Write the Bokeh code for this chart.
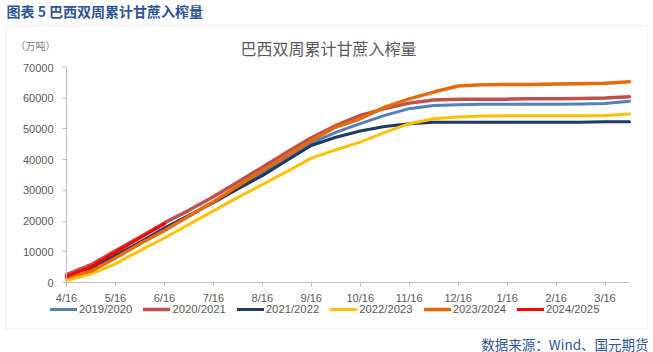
from bokeh.plotting import figure
from bokeh.models import (FixedTicker, Legend, LegendItem, Label, BoxAnnotation,
                          Range1d, LinearAxis)
from bokeh.embed import file_html
from bokeh.resources import INLINE

# ---- data ----
dates = ["4/16", "5/1", "5/16", "6/1", "6/16", "7/1", "7/16", "8/1", "8/16", "9/1",
         "9/16", "10/1", "10/16", "11/1", "11/16", "12/1", "12/16", "1/1", "1/16",
         "2/1", "2/16", "3/1", "3/16", "4/1"]
tick_labels = ["4/16", "5/16", "6/16", "7/16", "8/16", "9/16", "10/16", "11/16",
               "12/16", "1/16", "2/16", "3/16"]
y_ticks = [0, 10000, 20000, 30000, 40000, 50000, 60000, 70000]

s2019_2020 = [1500, 4400, 8800, 13100, 17800, 21900, 26200, 30800, 35500, 40300,
              45400, 48900, 51700, 54400, 56600, 57600, 57900, 58000, 58000, 58000,
              58000, 58100, 58300, 59000]
s2020_2021 = [2600, 5800, 10300, 14800, 19400, 23500, 27900, 32700, 37500, 42400,
              47100, 51100, 54400, 56600, 58400, 59400, 59700, 59700, 59700, 59800,
              59800, 59900, 60100, 60500]
s2021_2022 = [1500, 4400, 8800, 13100, 17600, 21800, 26000, 30500, 34800, 39700,
              44600, 47300, 49300, 50800, 51700, 52200, 52200, 52200, 52200, 52200,
              52200, 52200, 52300, 52300]
s2022_2023 = [650, 2800, 6100, 10400, 14500, 18900, 23300, 27700, 31900, 36100,
              40500, 43200, 45700, 48900, 51700, 53300, 53900, 54200, 54300, 54300,
              54300, 54300, 54400, 54900]
s2023_2024 = [1700, 3700, 8000, 12600, 16900, 21600, 26300, 31400, 36500, 41300,
              46200, 50600, 53300, 57100, 59800, 62000, 64000, 64400, 64500, 64500,
              64600, 64700, 64900, 65400]
s2024_2025 = [2000, 5100, 9900, 14500, 19100]

series_names = ["2019/2020", "2020/2021", "2021/2022", "2022/2023", "2023/2024", "2024/2025"]
series_values = [s2019_2020, s2020_2021, s2021_2022, s2022_2023, s2023_2024, s2024_2025]
series_colors = ["#4F81BD", "#C0504D", "#1F3864", "#FFC000", "#E46C0A", "#FF0000"]
series_widths = [3, 3.5, 3, 3, 3.5, 3]

# ---- layout (canvas px) ----
W, H = 653, 352
PL, PR, PT, PB = 66, 629, 67, 282          # plotting area inside the canvas
n = len(dates)
x_per_px = (n - 1) / (PR - PL)
y_per_px = 70000 / (PB - PT)
x_range = Range1d(-PL * x_per_px, (n - 1) + (W - PR) * x_per_px)
y_range = Range1d(-(H - PB) * y_per_px, 70000 + PT * y_per_px)

p = figure(width=W, height=H, output_backend="svg", toolbar_location=None,
           x_range=x_range, y_range=y_range, min_border=0,
           x_axis_location=None, y_axis_location=None)
p.title.visible = False
p.outline_line_color = None
p.background_fill_color = "white"
p.border_fill_color = "white"
p.grid.visible = False

axis_col = "#BFBFBF"
lab_col = "#595959"
num_font = "Liberation Sans"

xaxis = LinearAxis(fixed_location=0, bounds=(0, n - 1),
                   ticker=FixedTicker(ticks=list(range(0, n, 2))),
                   major_label_overrides={i * 2: lab for i, lab in enumerate(tick_labels)})
yaxis = LinearAxis(fixed_location=0, bounds=(0, 70000), ticker=FixedTicker(ticks=y_ticks))
for ax in (xaxis, yaxis):
    ax.axis_line_color = axis_col
    ax.major_tick_line_color = axis_col
    ax.minor_tick_line_color = None
    ax.major_tick_in = 0
    ax.major_tick_out = 4
    ax.major_label_text_color = lab_col
    ax.major_label_text_font = num_font
    ax.major_label_text_font_size = "11px"
yaxis.major_label_standoff = 9
xaxis.major_label_standoff = 5
p.add_layout(xaxis, "below")
p.add_layout(yaxis, "left")

items = []
for name, vals, col, lw in zip(series_names, series_values, series_colors, series_widths):
    r = p.line(list(range(len(vals))), vals, line_color=col, line_width=lw,
               line_join="round", line_cap="round")
    items.append(LegendItem(label=name, renderers=[r]))

legend = Legend(items=items, orientation="horizontal", location=(50, H - 316),
                glyph_width=27, glyph_height=14, label_height=14, label_standoff=2,
                spacing=11, padding=0, margin=0, border_line_color=None,
                background_fill_alpha=0, label_text_font=num_font,
                label_text_font_size="11.3px", label_text_color=lab_col)
p.add_layout(legend, "center")

# outer frame of the chart
p.add_layout(BoxAnnotation(left=5, right=647, bottom=H - 328, top=H - 25,
                           left_units="screen", right_units="screen",
                           bottom_units="screen", top_units="screen",
                           fill_alpha=0, line_color="#D9D9D9", line_width=1.5))

cjk = "Noto Sans CJK SC"
p.add_layout(Label(x=6, y=H - 10, x_units="screen", y_units="screen",
                   text="图表 5  巴西双周累计甘蔗入榨量", text_font=cjk, text_font_size="14px",
                   text_font_style="bold", text_color="#2F5597",
                   text_align="left", text_baseline="middle"))
p.add_layout(Label(x=328, y=H - 47, x_units="screen", y_units="screen",
                   text="巴西双周累计甘蔗入榨量", text_font=cjk, text_font_size="16px",
                   text_color=lab_col, text_align="center", text_baseline="middle"))
p.add_layout(Label(x=15, y=H - 45, x_units="screen", y_units="screen",
                   text="（万吨）", text_font=cjk, text_font_size="10px",
                   text_color="#7F7F7F", text_align="left", text_baseline="middle"))
p.add_layout(Label(x=648, y=H - 343, x_units="screen", y_units="screen",
                   text="数据来源：Wind、国元期货", text_font=cjk, text_font_size="13.5px",
                   text_color="#2F5597", text_align="right", text_baseline="middle"))

open("out.html", "w").write(file_html(p, INLINE))
